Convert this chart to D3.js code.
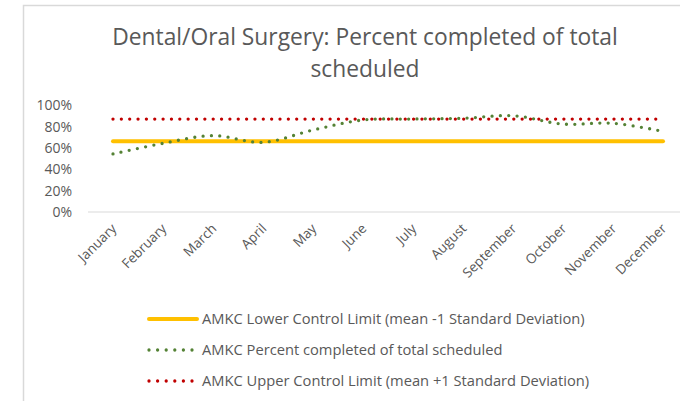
<!DOCTYPE html>
<html>
<head>
<meta charset="utf-8">
<script src="https://cdn.jsdelivr.net/npm/d3@7"></script>
<style>
  body { margin: 0; background: #fff; }
  text { font-family: "Open Sans", sans-serif; fill: #595959; }
</style>
</head>
<body>
<div id="chart"></div>
<script>
const months = ["January", "February", "March", "April", "May", "June", "July",
    "August", "September", "October", "November", "December"];
const percentCompleted = [0.545, 0.645, 0.717, 0.654, 0.77, 0.864, 0.873, 0.88, 0.904, 0.826, 0.833, 0.757];
const lowerLimit = [0.664, 0.664, 0.664, 0.664, 0.664, 0.664, 0.664, 0.664, 0.664, 0.664, 0.664, 0.664];
const upperLimit = [0.873, 0.873, 0.873, 0.873, 0.873, 0.873, 0.873, 0.873, 0.873, 0.873, 0.873, 0.873];
const yTicks = [0, 0.2, 0.4, 0.6, 0.8, 1];
const titleLines = ["Dental/Oral Surgery: Percent completed of total", "scheduled"];

const series = [
    { name: "AMKC Lower Control Limit (mean -1 Standard Deviation)", values: lowerLimit, color: "#FFC000", dotted: false, smooth: false },
    { name: "AMKC Percent completed of total scheduled", values: percentCompleted, color: "#548235", dotted: true, smooth: true },
    { name: "AMKC Upper Control Limit (mean +1 Standard Deviation)", values: upperLimit, color: "#C00000", dotted: true, smooth: false }
];

const W = 680, H = 401;

const svg = d3.select("#chart").append("svg")
    .attr("width", W)
    .attr("height", H);

// chart border (right/bottom are outside the crop)
svg.append("rect")
    .attr("x", 23.5).attr("y", 5.5)
    .attr("width", 700).attr("height", 420)
    .attr("fill", "none")
    .attr("stroke", "#d9d9d9")
    .attr("stroke-width", 1.5);

const x = d3.scaleBand()
    .domain(months)
    .range([88, 688])
    .padding(0);

const cx = d => x(d) + x.bandwidth() / 2;

const y = d3.scaleLinear()
    .domain([0, 1])
    .range([212, 105.5]);

// title
svg.append("text")
    .attr("text-anchor", "middle")
    .style("font-size", "22.8px")
    .selectAll("tspan")
    .data(titleLines)
    .enter().append("tspan")
    .attr("x", 365)
    .attr("y", (d, i) => 45 + i * 32)
    .text(d => d);

// y axis labels
svg.append("g")
    .selectAll("text")
    .data(yTicks)
    .enter().append("text")
    .attr("x", 72)
    .attr("y", d => y(d))
    .attr("dy", "0.35em")
    .attr("text-anchor", "end")
    .style("font-size", "14px")
    .text(d => d3.format(".0%")(d));

// category axis line
svg.append("line")
    .attr("x1", 88).attr("x2", 688)
    .attr("y1", y(0)).attr("y2", y(0))
    .attr("stroke", "#d9d9d9")
    .attr("stroke-width", 1);

// x labels
svg.append("g")
    .selectAll("text")
    .data(months)
    .enter().append("text")
    .attr("transform", d => `translate(${cx(d) + 1},${y(0) + 14}) rotate(-45)`)
    .attr("text-anchor", "end")
    .attr("dy", "0.35em")
    .style("font-size", "13.5px")
    .text(d => d);

const straight = d3.line()
    .x((d, i) => cx(months[i]))
    .y(d => y(d));

const smooth = d3.line()
    .x((d, i) => cx(months[i]))
    .y(d => y(d))
    .curve(d3.curveCatmullRom.alpha(0.5));

function styleLine(sel, s) {
    sel.attr("fill", "none")
        .attr("stroke", s.color)
        .attr("stroke-linecap", "round");
    if (s.dotted) {
        sel.attr("stroke-width", 3.3).attr("stroke-dasharray", "0 8.35");
    } else {
        sel.attr("stroke-width", 4);
    }
}

series.forEach(s => {
    svg.append("path")
        .attr("d", (s.smooth ? smooth : straight)(s.values))
        .call(styleLine, s);
});

// legend
const legend = svg.append("g")
    .selectAll("g")
    .data(series)
    .enter().append("g")
    .attr("transform", (d, i) => `translate(0,${319 + i * 31})`);

legend.append("line")
    .attr("x1", 149)
    .attr("x2", d => d.dotted ? 194 : 197)
    .attr("y1", 0).attr("y2", 0)
    .each(function (d) {
        d3.select(this).call(styleLine, d);
        if (d.dotted) d3.select(this).attr("stroke-dasharray", "0 8.6");
    });

legend.append("text")
    .attr("x", 202)
    .attr("y", 0)
    .attr("dy", "0.35em")
    .style("font-size", "14.7px")
    .text(d => d.name);
</script>
</body>
</html>
